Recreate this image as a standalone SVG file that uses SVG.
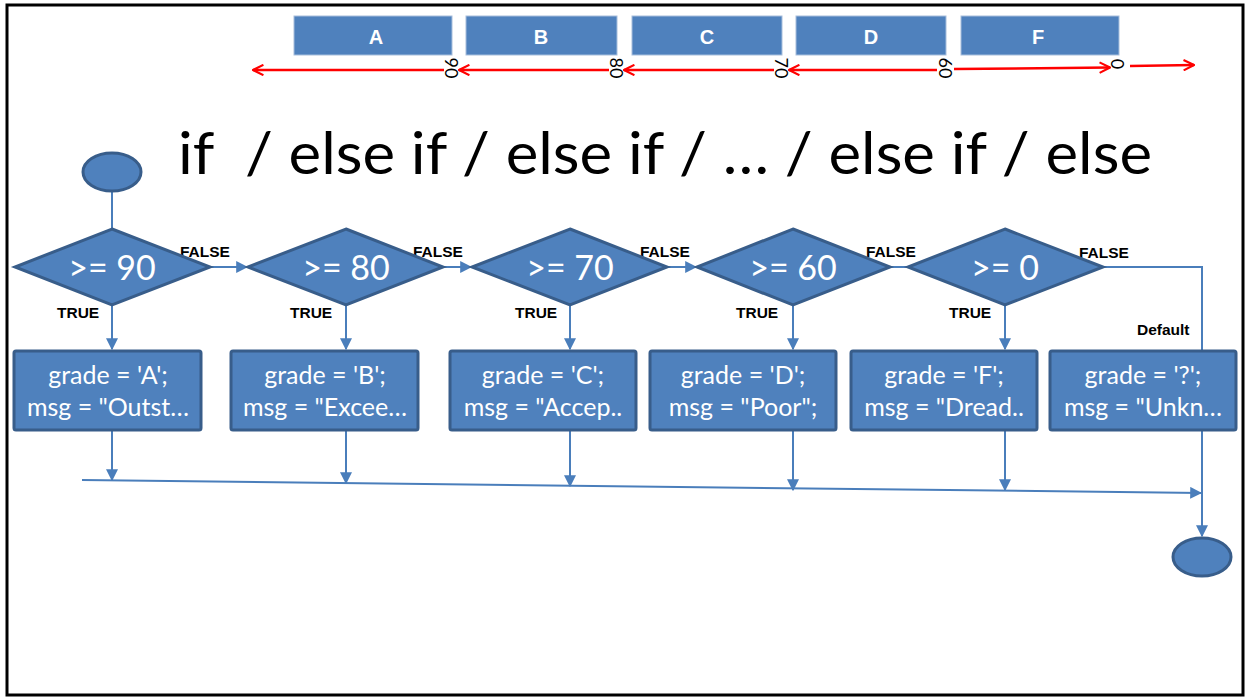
<svg xmlns="http://www.w3.org/2000/svg" width="1249" height="698" viewBox="0 0 1249 698">
  <style>
    .shape { fill: #4F81BD; stroke: #385D8A; stroke-width: 3; }
    .bar { fill: #4F81BD; stroke: #A7BEDC; stroke-width: 1; }
    .bar-label { font-family: "Liberation Sans", Arial, sans-serif; font-weight: bold; font-size: 20px; fill: #FFFFFF; text-anchor: middle; }
    .tick { font-family: "Lato", "Liberation Sans", sans-serif; font-size: 18px; fill: #000000; text-anchor: middle; dominant-baseline: central; }
    .title { font-family: "Lato", "Liberation Sans", sans-serif; font-size: 58px; fill: #000000; white-space: pre; }
    .cond { font-family: "Lato", "Liberation Sans", sans-serif; font-size: 34px; fill: #FFFFFF; text-anchor: middle; }
    .stmt { font-family: "Lato", "Liberation Sans", sans-serif; font-size: 25px; fill: #FFFFFF; text-anchor: middle; }
    .edge-label { font-family: "Liberation Sans", Arial, sans-serif; font-weight: bold; font-size: 15.5px; fill: #000000; }
    .flow { fill: none; stroke: #4A7EBB; stroke-width: 2; }
    .range { fill: none; stroke: #FF0000; stroke-width: 2.5; }
  </style>
  <defs>
    <marker id="flowHead" viewBox="0 0 10 10" refX="9" refY="5" markerWidth="6" markerHeight="6" markerUnits="strokeWidth" orient="auto">
      <path d="M0,0 L10,5 L0,10 Z" fill="#4A7EBB"/>
    </marker>
    <marker id="rangeHead" viewBox="0 0 12 12" refX="11" refY="6" markerWidth="5" markerHeight="5" markerUnits="strokeWidth" orient="auto">
      <path d="M1,1 L11,6 L1,11" fill="none" stroke="#FF0000" stroke-width="2"/>
    </marker>
  </defs>

  <!-- slide frame -->
  <rect x="7" y="5" width="1236" height="690" fill="#FFFFFF" stroke="#000000" stroke-width="3"/>

  <!-- grade bands -->
  <g id="bands">
    <rect class="bar" x="294" y="16" width="158" height="39"/>
    <text class="bar-label" x="376" y="44">A</text>
    <rect class="bar" x="466" y="16" width="151" height="39"/>
    <text class="bar-label" x="541" y="44">B</text>
    <rect class="bar" x="632" y="16" width="150" height="39"/>
    <text class="bar-label" x="707" y="44">C</text>
    <rect class="bar" x="796" y="16" width="150" height="39"/>
    <text class="bar-label" x="871" y="44">D</text>
    <rect class="bar" x="961" y="16" width="158" height="39"/>
    <text class="bar-label" x="1038" y="44">F</text>
  </g>

  <!-- score axis -->
  <g id="axis">
    <line class="range" x1="444" y1="70" x2="253" y2="70" marker-end="url(#rangeHead)"/>
    <line class="range" x1="609" y1="70" x2="459" y2="70" marker-end="url(#rangeHead)"/>
    <line class="range" x1="774" y1="70" x2="624" y2="70" marker-end="url(#rangeHead)"/>
    <line class="range" x1="937" y1="70" x2="789" y2="70" marker-end="url(#rangeHead)"/>
    <line class="range" x1="954" y1="69" x2="1110" y2="67.5" marker-end="url(#rangeHead)"/>
    <line class="range" x1="1130" y1="66" x2="1194" y2="65" marker-end="url(#rangeHead)"/>
    <text class="tick" transform="translate(452,68) rotate(90)">90</text>
    <text class="tick" transform="translate(617,68) rotate(90)">80</text>
    <text class="tick" transform="translate(782,68) rotate(90)">70</text>
    <text class="tick" transform="translate(946,68) rotate(90)">60</text>
    <text class="tick" transform="translate(1118,64) rotate(90)">0</text>
  </g>

  <text class="title" x="178" y="174" textLength="974" lengthAdjust="spacingAndGlyphs" xml:space="preserve">if  / else if / else if / … / else if / else</text>

  <!-- connectors -->
  <g id="connectors">
    <line class="flow" x1="112" y1="191" x2="112" y2="229"/>
    <!-- FALSE branches -->
    <line class="flow" x1="210" y1="267" x2="247" y2="267" marker-end="url(#flowHead)"/>
    <line class="flow" x1="443" y1="267" x2="471" y2="267" marker-end="url(#flowHead)"/>
    <line class="flow" x1="667" y1="267" x2="696" y2="267" marker-end="url(#flowHead)"/>
    <line class="flow" x1="890" y1="267" x2="908" y2="267"/>
    <polyline class="flow" points="1103,267 1202,267 1202,350"/>
    <!-- TRUE branches -->
    <line class="flow" x1="112" y1="306" x2="112" y2="349" marker-end="url(#flowHead)"/>
    <line class="flow" x1="346" y1="306" x2="346" y2="349" marker-end="url(#flowHead)"/>
    <line class="flow" x1="570" y1="306" x2="570" y2="349" marker-end="url(#flowHead)"/>
    <line class="flow" x1="793" y1="306" x2="793" y2="349" marker-end="url(#flowHead)"/>
    <line class="flow" x1="1005" y1="306" x2="1005" y2="349" marker-end="url(#flowHead)"/>
    <!-- into the merge line -->
    <line class="flow" x1="112" y1="431" x2="112" y2="480" marker-end="url(#flowHead)"/>
    <line class="flow" x1="346" y1="431" x2="346" y2="483" marker-end="url(#flowHead)"/>
    <line class="flow" x1="570" y1="431" x2="570" y2="486" marker-end="url(#flowHead)"/>
    <line class="flow" x1="793" y1="431" x2="793" y2="490" marker-end="url(#flowHead)"/>
    <line class="flow" x1="1005" y1="431" x2="1005" y2="490" marker-end="url(#flowHead)"/>
    <line class="flow" x1="82" y1="480" x2="1201" y2="493" marker-end="url(#flowHead)"/>
    <line class="flow" x1="1202" y1="431" x2="1202" y2="536" marker-end="url(#flowHead)"/>
    <!-- branch labels -->
    <text class="edge-label" x="180" y="257">FALSE</text>
    <text class="edge-label" x="413" y="257">FALSE</text>
    <text class="edge-label" x="640" y="257">FALSE</text>
    <text class="edge-label" x="866" y="257">FALSE</text>
    <text class="edge-label" x="1079" y="258">FALSE</text>
    <text class="edge-label" x="57" y="318">TRUE</text>
    <text class="edge-label" x="290" y="318">TRUE</text>
    <text class="edge-label" x="515" y="318">TRUE</text>
    <text class="edge-label" x="736" y="318">TRUE</text>
    <text class="edge-label" x="949" y="318">TRUE</text>
    <text class="edge-label" x="1137" y="335">Default</text>
  </g>

  <g id="start">
    <ellipse class="shape" cx="112" cy="172" rx="29" ry="19"/>
  </g>

  <g id="cond90">
    <polygon class="shape" points="112,229 210,267 112,305 15,267"/>
    <text class="cond" x="112" y="280">&gt;= 90</text>
  </g>
  <g id="cond80">
    <polygon class="shape" points="346,229 443,267 346,305 248,267"/>
    <text class="cond" x="346" y="280">&gt;= 80</text>
  </g>
  <g id="cond70">
    <polygon class="shape" points="570,229 667,267 570,305 472,267"/>
    <text class="cond" x="570" y="280">&gt;= 70</text>
  </g>
  <g id="cond60">
    <polygon class="shape" points="793,229 890,267 793,305 697,267"/>
    <text class="cond" x="793" y="280">&gt;= 60</text>
  </g>
  <g id="cond0">
    <polygon class="shape" points="1005,229 1103,267 1005,305 908,267"/>
    <text class="cond" x="1005" y="280">&gt;= 0</text>
  </g>

  <g id="gradeA">
    <rect class="shape" x="14" y="351" width="187" height="79" rx="2"/>
    <text class="stmt" x="108" y="384">grade = 'A';</text>
    <text class="stmt" x="108" y="416">msg = "Outst…</text>
  </g>
  <g id="gradeB">
    <rect class="shape" x="231" y="351" width="187" height="79" rx="2"/>
    <text class="stmt" x="325" y="384">grade = 'B';</text>
    <text class="stmt" x="325" y="416">msg = "Excee…</text>
  </g>
  <g id="gradeC">
    <rect class="shape" x="450" y="351" width="186" height="79" rx="2"/>
    <text class="stmt" x="543" y="384">grade = 'C';</text>
    <text class="stmt" x="543" y="416">msg = "Accep..</text>
  </g>
  <g id="gradeD">
    <rect class="shape" x="650" y="351" width="186" height="79" rx="2"/>
    <text class="stmt" x="743" y="384">grade = 'D';</text>
    <text class="stmt" x="743" y="416">msg = "Poor";</text>
  </g>
  <g id="gradeF">
    <rect class="shape" x="851" y="351" width="186" height="79" rx="2"/>
    <text class="stmt" x="944" y="384">grade = 'F';</text>
    <text class="stmt" x="944" y="416">msg = "Dread..</text>
  </g>
  <g id="gradeUnknown">
    <rect class="shape" x="1050" y="351" width="186" height="79" rx="2"/>
    <text class="stmt" x="1143" y="384">grade = '?';</text>
    <text class="stmt" x="1143" y="416">msg = "Unkn…</text>
  </g>

  <g id="end">
    <ellipse class="shape" cx="1202" cy="557" rx="29" ry="19"/>
  </g>
</svg>
